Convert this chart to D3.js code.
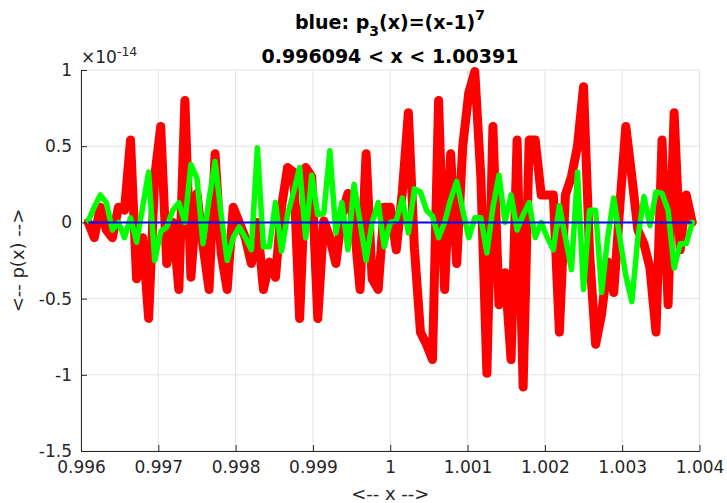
<!DOCTYPE html>
<html>
<head>
<meta charset="utf-8">
<script src="https://cdn.jsdelivr.net/npm/d3@7/dist/d3.min.js"></script>
<style>
  body { margin: 0; background: #fff; }
  text { font-family: "DejaVu Sans", sans-serif; }
</style>
</head>
<body>
<div class="svg-container"></div>
<script>
// x runs from 1-2^-8 to 1+2^-8, 101 samples
const xStart = 0.99609375;
const xEnd = 1.00390625;

// values in units of 1e-14
const redY = [0, -0.1, 0.1, -0.05, -0.1, 0.1, 0.08, 0.54, -0.37, -0.1,
  -0.63, 0.3, 0.63, -0.27, 0.0, -0.44, 0.8, -0.36, 0.19, -0.15,
  -0.44, 0.45, -0.2, -0.44, 0.1, 0, -0.1, -0.27, 0, -0.44,
  -0.26, -0.36, 0.1, 0.36, 0.33, -0.63, 0.36, 0.3, -0.63, 0.01,
  -0.1, -0.27, 0.05, 0.19, 0.0, -0.44, 0.45, -0.37, -0.44, 0.1,
  0.1, -0.18, 0.2, 0.72, -0.17, -0.72, -0.8, -0.9, 0.8, -0.44,
  0.45, -0.27, 0.5, 0.85, 0.99, 0.3, -0.99, 0.63, -0.54, -0.33,
  -0.9, 0.54, -1.08, 0.54, 0.54, 0.18, 0.18, 0.18, -0.72, 0.18,
  0.3, 0.5, 0.89, -0.2, -0.8, -0.6, -0.26, -0.46, 0.1, 0.63,
  0.3, -0.05, -0.14, -0.3, -0.72, 0.54, -0.54, 0.72, -0.18, 0.18, 0];

const greenY = [0.01, 0.1, 0.18, 0.13, -0.05, 0.0, -0.1, 0.03, -0.13, 0.1,
  0.33, -0.25, -0.06, -0.03, 0.08, 0.13, 0.0, 0.38, 0.29, -0.14,
  0.15, 0.4, 0.05, -0.25, -0.1, -0.03, -0.1, -0.18, 0.49, -0.16,
  -0.16, 0.13, -0.19, 0.05, 0.2, 0.36, -0.1, 0.31, 0.05, 0.06,
  0.47, -0.07, 0.13, -0.18, 0.25, 0.0, -0.25, 0.0, 0.13, -0.16,
  0.0, 0.01, 0.16, -0.07, 0.22, 0.2, 0.08, 0.04, -0.1, 0.0,
  0.15, 0.27, 0.08, -0.1, 0.03, 0.03, -0.2, 0.1, 0.31, 0.0,
  0.18, -0.05, 0.05, 0.13, -0.1, 0.0, -0.1, -0.18, 0.11, -0.1,
  -0.31, 0.33, -0.44, 0.08, 0.08, -0.46, -0.1, 0.16, -0.1, -0.35,
  -0.52, -0.1, 0.17, -0.02, 0.2, 0.19, 0.08, -0.3, -0.14, -0.14, 0];

const blueY = [0,0,0,0,0,0,0,0,0,0, 0,0,0,0,0,0,0,0,0,0, 0,0,0,0,0,0,0,0,0,0,
  0,0,0,0,0,0,0,0,0,0, 0,0,0,0,0,0,0,0,0,0, 0,0,0,0,0,0,0,0,0,0,
  0,0,0,0,0,0,0,0,0,0, 0,0,0,0,0,0,0,0,0,0, 0,0,0,0,0,0,0,0,0,0,
  0,0,0,0,0,0,0,0,0,0, 0];

const xTicks = [0.996, 0.997, 0.998, 0.999, 1, 1.001, 1.002, 1.003, 1.004];
const xTickLabels = ["0.996", "0.997", "0.998", "0.999", "1", "1.001", "1.002", "1.003", "1.004"];
const yTicks = [-1.5, -1, -0.5, 0, 0.5, 1];
const yTickLabels = ["-1.5", "-1", "-0.5", "0", "0.5", "1"];

const width = 727, height = 503;
const pL = 81, pR = 699.5, pT = 70, pB = 451;

const svg = d3.select(".svg-container").append("svg")
  .attr("width", width).attr("height", height)
  .attr("viewBox", "0 0 " + width + " " + height);

const x = d3.scaleLinear().domain([0.996, 1.004]).range([pL, pR]);
const y = d3.scaleLinear().domain([-1.5, 1]).range([pB, pT]);

const n = redY.length;
const xs = d3.range(n).map(i => xStart + i * (xEnd - xStart) / (n - 1));

// grid
svg.append("g").selectAll("line").data(xTicks).enter().append("line")
  .attr("x1", d => x(d)).attr("x2", d => x(d))
  .attr("y1", pT).attr("y2", pB)
  .attr("stroke", "#e3e3e3").attr("stroke-width", 1);
svg.append("g").selectAll("line").data(yTicks).enter().append("line")
  .attr("x1", pL).attr("x2", pR)
  .attr("y1", d => y(d)).attr("y2", d => y(d))
  .attr("stroke", "#e3e3e3").attr("stroke-width", 1);

// lines
const line = arr => d3.line().x((d, i) => x(xs[i])).y(d => y(d))(arr);
svg.append("path").attr("d", line(redY)).attr("fill", "none")
  .attr("stroke", "#ff0000").attr("stroke-width", 9)
  .attr("stroke-linejoin", "round").attr("stroke-linecap", "round");
svg.append("path").attr("d", line(greenY)).attr("fill", "none")
  .attr("stroke", "#00ff00").attr("stroke-width", 5.5)
  .attr("stroke-linejoin", "round").attr("stroke-linecap", "round");
svg.append("path").attr("d", line(blueY)).attr("fill", "none")
  .attr("stroke", "#0000ff").attr("stroke-width", 2);

// axes (ticks pointing inward)
const xAxis = d3.axisBottom(x).tickValues(xTicks)
  .tickFormat((d, i) => xTickLabels[i]).tickSizeInner(-6).tickSizeOuter(0).tickPadding(10);
const gx = svg.append("g").attr("transform", "translate(0," + pB + ")").call(xAxis);
const yAxis = d3.axisLeft(y).tickValues(yTicks)
  .tickFormat((d, i) => yTickLabels[i]).tickSizeInner(-6).tickSizeOuter(0).tickPadding(9);
const gy = svg.append("g").attr("transform", "translate(" + pL + ",0)").call(yAxis);
[gx, gy].forEach(g => {
  g.select(".domain").attr("stroke", "#262626");
  g.selectAll(".tick line").attr("stroke", "#262626");
  g.selectAll(".tick text").attr("fill", "#262626")
    .attr("font-family", "DejaVu Sans").attr("font-size", 17);
});

// exponent label
const ex = svg.append("text").attr("x", pL).attr("y", 63)
  .attr("fill", "#262626").attr("font-size", 17);
ex.append("tspan").text("\u00d710");
ex.append("tspan").attr("dy", -7).attr("font-size", 12.5).text("-14");

// title
const t1 = svg.append("text").attr("x", 390).attr("y", 29)
  .attr("text-anchor", "middle").attr("font-weight", "bold")
  .attr("font-size", 19).attr("fill", "#000");
t1.append("tspan").text("blue: p");
t1.append("tspan").attr("dy", 7).attr("font-size", 14).text("3");
t1.append("tspan").attr("dy", -7).text("(x)=(x-1)");
t1.append("tspan").attr("dy", -9).attr("font-size", 14).text("7");
svg.append("text").attr("x", 390).attr("y", 63)
  .attr("text-anchor", "middle").attr("font-weight", "bold")
  .attr("font-size", 19).attr("fill", "#000")
  .text("0.996094 < x < 1.00391");

// axis labels
svg.append("text").attr("x", x(1)).attr("y", 500)
  .attr("text-anchor", "middle").attr("font-size", 18).attr("fill", "#262626")
  .text("<-- x -->");
svg.append("text").attr("transform", "translate(24," + (pT + pB) / 2 + ") rotate(-90)")
  .attr("text-anchor", "middle").attr("font-size", 18).attr("fill", "#262626")
  .text("<-- p(x) -->");
</script>
</body>
</html>
